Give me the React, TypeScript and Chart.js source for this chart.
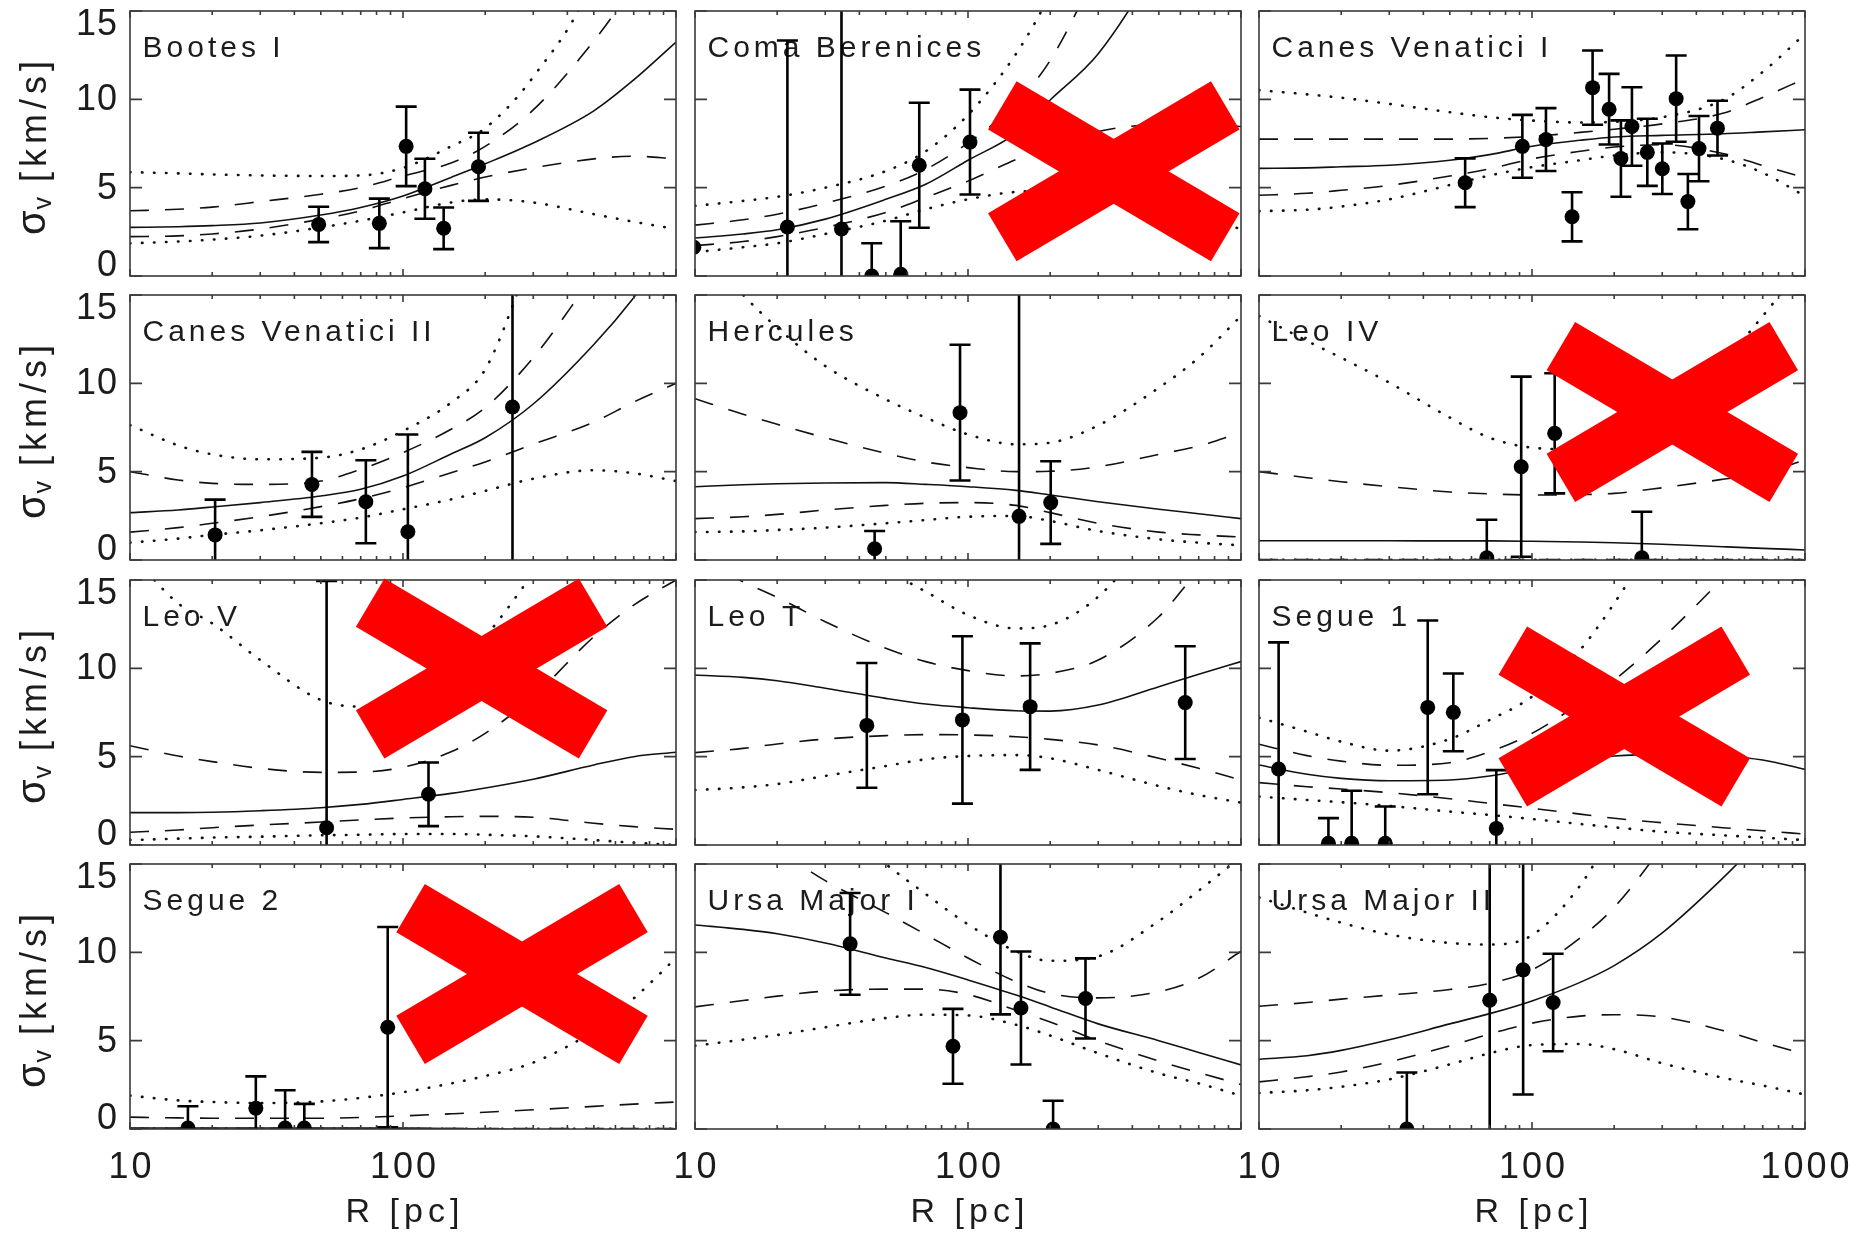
import React, { useEffect, useRef } from "react";
import { Chart, registerables } from "chart.js";

Chart.register(...registerables);

// ---- shared axis values ----
const R_GRID = [10, 15, 20, 30, 50, 70, 100, 150, 200, 300, 500, 700, 1000];
const X_MAJOR = [10, 100, 1000];
const X_MINOR = [20, 30, 40, 50, 60, 70, 80, 90, 200, 300, 400, 500, 600, 700, 800, 900];
const Y_TICKS = [0, 5, 10, 15];
const Y_TICK_LABELS = ["0", "5", "10", "15"];
const X_LABEL_VALUES_LEFT = [10, 100];
const X_LABEL_VALUES_RIGHT = [10, 100, 1000];
const Y_TITLE_MAIN = "σ";
const Y_TITLE_SUB = "v";
const Y_TITLE_UNIT = "[km/s]";
const X_TITLE = "R [pc]";

// ---- Bootes I ----
const BOO_R = [49.1, 81.9, 102.7, 120.3, 140.9, 189];
const BOO_SIG = [2.92, 2.98, 7.34, 4.94, 2.7, 6.18];
const BOO_ERR = [1.0, 1.4, 2.25, 1.7, 1.18, 1.93];
const BOO_FIT = [2.75, 2.79, 2.85, 3.0, 3.45, 3.88, 4.53, 5.58, 6.35, 7.53, 9.35, 11.1, 13.24];
const BOO_DASH_HI = [3.69, 3.78, 3.9, 4.21, 4.63, 5.0, 5.66, 6.4, 7.34, 9.4, 13.3, 16.4, 19.7];
const BOO_DOT_HI = [5.88, 5.81, 5.75, 5.69, 5.66, 5.69, 6.12, 7.34, 8.37, 11.27, 17.0, 25, 32];
const BOO_DASH_LO = [2.23, 2.27, 2.38, 2.66, 3.22, 3.69, 4.38, 5.13, 5.6, 6.12, 6.63, 6.78, 6.63];
const BOO_DOT_LO = [1.85, 1.95, 2.06, 2.28, 2.75, 3.13, 3.6, 4.16, 4.34, 4.16, 3.5, 3.07, 2.66];

// ---- Coma Berenices ----
const COM_R = [9.9, 21.8, 34.4, 44.4, 56.7, 66.3, 101.7];
const COM_SIG = [1.63, 2.77, 2.66, 0.0, 0.1, 6.27, 7.58];
const COM_ERR = [0, 10.56, 13, 1.85, 3.0, 3.54, 2.97];
const COM_FIT = [2.15, 2.38, 2.62, 3.22, 4.34, 5.19, 6.55, 8.09, 9.96, 12.58, 17.8, 22, 27];
const COM_DASH_HI = [2.88, 3.18, 3.5, 4.12, 5.09, 6.03, 7.53, 9.78, 12.2, 17.4, 24, 30, 36];
const COM_DOT_HI = [3.97, 4.25, 4.48, 5.0, 5.94, 7.06, 9.12, 12.58, 15.95, 22, 30, 36, 42];
const COM_DASH_LO = [1.72, 1.95, 2.23, 2.75, 3.6, 4.44, 5.37, 6.59, 7.34, 8.18, 8.56, 8.56, 8.46];
const COM_DOT_LO = [1.35, 1.63, 1.85, 2.38, 3.13, 3.78, 4.34, 4.76, 4.81, 4.63, 3.88, 3.31, 2.66];

// ---- Canes Venatici I ----
const CV1_R = [56.9, 92.2, 112.5, 140.2, 166.7, 191.6, 211.7, 232.3, 264.5, 300.2, 337.3, 372.4, 409, 478];
const CV1_SIG = [5.28, 7.34, 7.72, 3.35, 10.66, 9.44, 6.65, 8.46, 7.0, 6.07, 10.04, 4.21, 7.21, 8.37];
const CV1_ERR = [1.38, 1.78, 1.78, 1.39, 2.1, 2.0, 2.16, 2.22, 1.9, 1.43, 2.44, 1.56, 1.85, 1.55];
const CV1_FIT = [6.09, 6.12, 6.18, 6.27, 6.55, 6.87, 7.34, 7.68, 7.87, 7.96, 8.05, 8.16, 8.28];
const CV1_DASH_HI = [7.75, 7.75, 7.75, 7.75, 7.75, 7.79, 7.9, 8.13, 8.31, 8.61, 9.21, 10.11, 11.18];
const CV1_DOT_HI = [10.52, 10.28, 10.09, 9.74, 9.27, 8.99, 8.8, 8.69, 8.73, 8.99, 9.96, 11.55, 13.71];
const CV1_DASH_LO = [4.57, 4.68, 4.85, 5.13, 5.66, 6.07, 6.63, 7.06, 7.3, 7.43, 6.93, 6.25, 5.56];
const CV1_DOT_LO = [3.67, 3.75, 3.93, 4.34, 5.15, 5.69, 6.16, 6.55, 6.82, 7.0, 6.63, 5.84, 4.53];

// ---- Canes Venatici II ----
const CV2_R = [20.5, 46.4, 73.1, 104.2, 251.8];
const CV2_SIG = [1.42, 4.28, 3.3, 1.6, 8.66];
const CV2_ERR = [2.0, 1.84, 2.35, 5.5, 9.5];
const CV2_FIT = [2.68, 2.83, 3.0, 3.25, 3.62, 4.0, 4.75, 6.0, 6.92, 8.83, 12.2, 14.85, 18.2];
const CV2_DASH_HI = [5.0, 4.53, 4.34, 4.28, 4.47, 5.13, 6.08, 7.4, 8.62, 11.45, 16.1, 19, 22];
const CV2_DOT_HI = [7.64, 6.49, 5.98, 5.7, 5.79, 6.26, 7.3, 8.91, 10.79, 17.4, 25, 30, 35];
const CV2_DASH_LO = [1.58, 1.83, 2.08, 2.45, 3.02, 3.47, 4.09, 4.94, 5.55, 6.55, 7.81, 8.94, 10.0];
const CV2_DOT_LO = [0.98, 1.21, 1.42, 1.68, 2.08, 2.4, 2.87, 3.43, 3.91, 4.6, 5.08, 4.91, 4.47];

// ---- Hercules ----
const HER_R = [45.5, 93.5, 153.8, 200.9];
const HER_SIG = [0.64, 8.34, 2.47, 3.25];
const HER_ERR = [1.0, 3.84, 13, 2.34];
const HER_FIT = [4.15, 4.26, 4.32, 4.36, 4.38, 4.28, 4.15, 3.94, 3.68, 3.3, 2.87, 2.62, 2.34];
const HER_DASH_HI = [9.13, 8.25, 7.68, 6.92, 6.04, 5.55, 5.23, 5.0, 5.02, 5.28, 5.98, 6.45, 7.21];
const HER_DOT_HI = [18.0, 15.0, 13.15, 10.98, 9.09, 8.06, 7.11, 6.55, 6.64, 7.62, 9.75, 11.45, 13.81];
const HER_DASH_LO = [2.34, 2.45, 2.58, 2.83, 3.09, 3.21, 3.25, 3.09, 2.68, 2.08, 1.58, 1.42, 1.3];
const HER_DOT_LO = [1.58, 1.62, 1.7, 1.83, 2.08, 2.26, 2.45, 2.49, 2.21, 1.64, 1.17, 0.98, 0.83];

// ---- Leo IV ----
const LE4_R = [68.3, 91.3, 121.1, 252.5];
const LE4_SIG = [0.13, 5.28, 7.17, 0.13];
const LE4_ERR = [2.15, 5.1, 3.4, 2.6];
const LE4_FIT = [1.09, 1.09, 1.09, 1.09, 1.08, 1.08, 1.06, 1.02, 0.98, 0.89, 0.75, 0.66, 0.57];
const LE4_DASH_HI = [5.0, 4.66, 4.43, 4.15, 3.85, 3.74, 3.68, 3.7, 3.77, 4.09, 4.57, 4.91, 5.66];
const LE4_DOT_HI = [13.81, 12.4, 11.45, 10.04, 8.06, 6.92, 6.36, 6.26, 6.64, 8.15, 11.17, 13.81, 16.8];
const LE4_DASH_LO = [0.03, 0.03, 0.03, 0.03, 0.03, 0.03, 0.03, 0.03, 0.03, 0.03, 0.03, 0.03, 0.03];
const LE4_DOT_LO = [0.01, 0.01, 0.01, 0.01, 0.01, 0.01, 0.01, 0.01, 0.01, 0.01, 0.01, 0.01, 0.01];

// ---- Leo V ----
const LE5_R = [52.5, 124];
const LE5_SIG = [0.98, 2.87];
const LE5_ERR = [13.96, 1.8];
const LE5_FIT = [1.83, 1.83, 1.85, 1.94, 2.11, 2.3, 2.58, 2.92, 3.23, 3.72, 4.53, 5.0, 5.25];
const LE5_DASH_HI = [5.62, 5.04, 4.72, 4.34, 4.11, 4.13, 4.4, 5.28, 6.32, 8.4, 11.79, 13.58, 15.0];
const LE5_DOT_HI = [16.5, 13.68, 12.55, 10.47, 8.21, 7.83, 8.21, 9.91, 11.79, 15.38, 20, 24, 28];
const LE5_DASH_LO = [0.72, 0.85, 0.98, 1.13, 1.3, 1.42, 1.53, 1.6, 1.62, 1.57, 1.23, 1.04, 0.89];
const LE5_DOT_LO = [0.28, 0.36, 0.42, 0.47, 0.55, 0.58, 0.62, 0.62, 0.58, 0.49, 0.28, 0.13, 0.0];

// ---- Leo T ----
const LET_R = [42.6, 95.4, 168.9, 624.7];
const LET_SIG = [6.77, 7.08, 7.83, 8.06];
const LET_ERR = [3.53, 4.74, 3.58, 3.19];
const LET_FIT = [9.62, 9.49, 9.3, 8.87, 8.3, 7.98, 7.77, 7.6, 7.58, 7.92, 8.96, 9.66, 10.38];
const LET_DASH_HI = [16.3, 14.9, 14.02, 12.64, 11.13, 10.38, 9.87, 9.57, 9.72, 10.47, 12.92, 15.57, 18];
const LET_DOT_HI = [25, 21, 19, 17.3, 15.57, 14.34, 13.02, 12.26, 12.45, 14.06, 18, 21, 24];
const LET_DASH_LO = [5.23, 5.47, 5.72, 6.0, 6.19, 6.25, 6.23, 6.13, 5.98, 5.66, 4.91, 4.34, 3.68];
const LET_DOT_LO = [3.11, 3.26, 3.45, 3.91, 4.47, 4.85, 5.04, 5.09, 4.91, 4.25, 3.34, 2.83, 2.4];

// ---- Segue 1 ----
const SG1_R = [11.8, 17.96, 21.85, 29.0, 41.5, 51.5, 74.0];
const SG1_SIG = [4.3, 0.1, 0.1, 0.1, 7.79, 7.51, 0.94];
const SG1_ERR = [7.17, 1.42, 2.97, 2.08, 4.92, 2.2, 3.3];
const SG1_FIT = [4.53, 4.0, 3.77, 3.64, 3.68, 3.91, 4.34, 4.81, 5.04, 5.13, 5.04, 4.81, 4.28];
const SG1_DASH_HI = [5.7, 5.06, 4.75, 4.51, 4.66, 5.28, 6.32, 8.02, 9.34, 11.7, 15.1, 17.5, 20];
const SG1_DOT_HI = [7.21, 6.42, 5.85, 5.34, 6.0, 7.08, 8.4, 11.04, 13.68, 18, 24, 28, 32];
const SG1_DASH_LO = [3.53, 3.3, 3.17, 2.96, 2.62, 2.36, 2.08, 1.75, 1.51, 1.26, 0.98, 0.81, 0.62];
const SG1_DOT_LO = [2.74, 2.55, 2.42, 2.21, 1.89, 1.7, 1.47, 1.19, 1.0, 0.75, 0.55, 0.42, 0.28];

// ---- Segue 2 ----
const SG2_R = [16.3, 28.9, 37.0, 43.5, 87.9];
const SG2_SIG = [0.05, 1.18, 0.05, 0.05, 5.76];
const SG2_ERR = [1.24, 1.8, 2.14, 1.37, 5.67];
const SG2_FIT = [0.06, 0.06, 0.06, 0.06, 0.06, 0.05, 0.05, 0.03, 0.0, -0.05, -0.1, -0.1, -0.1];
const SG2_DASH_HI = [0.67, 0.63, 0.61, 0.61, 0.61, 0.65, 0.74, 0.86, 0.95, 1.09, 1.28, 1.41, 1.53];
const SG2_DOT_HI = [1.89, 1.62, 1.53, 1.47, 1.56, 1.76, 2.08, 2.58, 3.0, 3.76, 5.57, 7.39, 9.68];
const SG2_DASH_LO = [0.02, 0.02, 0.02, 0.02, 0.02, 0.02, 0.02, 0.02, 0.02, 0.02, 0.02, 0.02, 0.02];
const SG2_DOT_LO = [0.01, 0.01, 0.01, 0.01, 0.01, 0.01, 0.01, 0.01, 0.01, 0.01, 0.01, 0.01, 0.01];

// ---- Ursa Major I ----
const UM1_R = [37.0, 88.1, 131.5, 156.3, 205, 269.4];
const UM1_SIG = [10.48, 4.68, 10.86, 6.85, 0.0, 7.39];
const UM1_ERR = [2.88, 2.12, 4.37, 3.2, 1.6, 2.27];
const UM1_FIT = [11.55, 11.3, 11.05, 10.53, 9.68, 9.14, 8.44, 7.58, 6.91, 5.95, 5.0, 4.33, 3.63];
const UM1_DASH_HI = [19, 17, 15.8, 14.06, 12.25, 11.01, 9.68, 8.34, 7.67, 7.42, 7.77, 8.53, 10.06];
const UM1_DOT_HI = [26, 23, 21, 18, 15.0, 13.3, 11.58, 10.06, 9.52, 9.77, 11.77, 13.49, 15.4];
const UM1_DASH_LO = [6.91, 7.27, 7.52, 7.81, 7.92, 7.92, 7.61, 6.72, 6.05, 5.0, 3.85, 3.19, 2.52];
const UM1_DOT_LO = [4.71, 5.06, 5.32, 5.76, 6.28, 6.47, 6.43, 5.9, 5.29, 4.29, 3.15, 2.58, 1.89];

// ---- Ursa Major II ----
const UM2_R = [34.8, 70.0, 92.8, 119.5];
const UM2_SIG = [0.0, 7.29, 9.01, 7.16];
const UM2_ERR = [3.2, 9.0, 7.06, 2.76];
const UM2_FIT = [3.95, 4.15, 4.45, 5.05, 5.95, 6.53, 7.25, 8.3, 9.25, 11.1, 14.2, 16.5, 19];
const UM2_DASH_HI = [6.95, 7.16, 7.35, 7.58, 7.9, 8.24, 9.01, 10.82, 12.54, 16.0, 21, 25, 29];
const UM2_DOT_HI = [13.11, 12.25, 11.68, 11.01, 10.53, 10.44, 10.97, 13.78, 17, 22, 28, 33, 38];
const UM2_DASH_LO = [2.67, 2.96, 3.23, 3.8, 4.71, 5.38, 5.99, 6.39, 6.47, 6.34, 5.57, 4.9, 4.24];
const UM2_DOT_LO = [2.04, 2.19, 2.39, 2.81, 3.66, 4.29, 4.75, 4.81, 4.52, 3.72, 2.9, 2.46, 1.95];

type PanelData = {
  name: string;
  r: number[];
  sig: number[];
  err: number[];
  fit: number[];
  dashHi: number[];
  dotHi: number[];
  dashLo: number[];
  dotLo: number[];
};

const PANELS: PanelData[] = [
  { name: "Bootes I", r: BOO_R, sig: BOO_SIG, err: BOO_ERR, fit: BOO_FIT, dashHi: BOO_DASH_HI, dotHi: BOO_DOT_HI, dashLo: BOO_DASH_LO, dotLo: BOO_DOT_LO },
  { name: "Coma Berenices", r: COM_R, sig: COM_SIG, err: COM_ERR, fit: COM_FIT, dashHi: COM_DASH_HI, dotHi: COM_DOT_HI, dashLo: COM_DASH_LO, dotLo: COM_DOT_LO },
  { name: "Canes Venatici I", r: CV1_R, sig: CV1_SIG, err: CV1_ERR, fit: CV1_FIT, dashHi: CV1_DASH_HI, dotHi: CV1_DOT_HI, dashLo: CV1_DASH_LO, dotLo: CV1_DOT_LO },
  { name: "Canes Venatici II", r: CV2_R, sig: CV2_SIG, err: CV2_ERR, fit: CV2_FIT, dashHi: CV2_DASH_HI, dotHi: CV2_DOT_HI, dashLo: CV2_DASH_LO, dotLo: CV2_DOT_LO },
  { name: "Hercules", r: HER_R, sig: HER_SIG, err: HER_ERR, fit: HER_FIT, dashHi: HER_DASH_HI, dotHi: HER_DOT_HI, dashLo: HER_DASH_LO, dotLo: HER_DOT_LO },
  { name: "Leo IV", r: LE4_R, sig: LE4_SIG, err: LE4_ERR, fit: LE4_FIT, dashHi: LE4_DASH_HI, dotHi: LE4_DOT_HI, dashLo: LE4_DASH_LO, dotLo: LE4_DOT_LO },
  { name: "Leo V", r: LE5_R, sig: LE5_SIG, err: LE5_ERR, fit: LE5_FIT, dashHi: LE5_DASH_HI, dotHi: LE5_DOT_HI, dashLo: LE5_DASH_LO, dotLo: LE5_DOT_LO },
  { name: "Leo T", r: LET_R, sig: LET_SIG, err: LET_ERR, fit: LET_FIT, dashHi: LET_DASH_HI, dotHi: LET_DOT_HI, dashLo: LET_DASH_LO, dotLo: LET_DOT_LO },
  { name: "Segue 1", r: SG1_R, sig: SG1_SIG, err: SG1_ERR, fit: SG1_FIT, dashHi: SG1_DASH_HI, dotHi: SG1_DOT_HI, dashLo: SG1_DASH_LO, dotLo: SG1_DOT_LO },
  { name: "Segue 2", r: SG2_R, sig: SG2_SIG, err: SG2_ERR, fit: SG2_FIT, dashHi: SG2_DASH_HI, dotHi: SG2_DOT_HI, dashLo: SG2_DASH_LO, dotLo: SG2_DOT_LO },
  { name: "Ursa Major I", r: UM1_R, sig: UM1_SIG, err: UM1_ERR, fit: UM1_FIT, dashHi: UM1_DASH_HI, dotHi: UM1_DOT_HI, dashLo: UM1_DASH_LO, dotLo: UM1_DOT_LO },
  { name: "Ursa Major II", r: UM2_R, sig: UM2_SIG, err: UM2_ERR, fit: UM2_FIT, dashHi: UM2_DASH_HI, dotHi: UM2_DOT_HI, dashLo: UM2_DASH_LO, dotLo: UM2_DOT_LO },
];

// ---- layout & style ----
const FIG_W = 1850;
const FIG_H = 1234;
const PANEL_LEFT = [130, 695, 1259];
const PANEL_TOP = [11, 295, 580, 864];
const PANEL_W = 546;
const PANEL_H = 265;
const CANVAS_X = [[0, 690], [665, 1255], [1229, FIG_W]];
const CANVAS_Y = [[0, 288], [283, 572], [568, 857], [852, FIG_H]];

const FONT = '"Liberation Sans", Arial, sans-serif';
const TEXT_COLOR = "#1c1c1c";
const FRAME_COLOR = "#3a3a3a";
const CROSS_COLOR = "#ff0000";
const CROSS_LEN = 259;
const CROSS_THICK = 56;
const CROSS_ANGLE = (30.6 * Math.PI) / 180;
// centre of the red cross, as a fraction of the plotting area
const CROSS_AT: Record<string, [number, number]> = {
  "Coma Berenices": [0.767, 0.605],
  "Leo IV": [0.757, 0.4415],
  "Leo V": [0.644, 0.334],
  "Segue 1": [0.669, 0.515],
  "Segue 2": [0.718, 0.415],
};

const LINE_STYLE = {
  solid: { borderDash: [] as number[], borderWidth: 1.6, borderCapStyle: "butt" },
  dash: { borderDash: [19, 16], borderWidth: 1.6, borderCapStyle: "butt" },
  dot: { borderDash: [0.5, 11.5], borderWidth: 2.6, borderCapStyle: "round" },
};

function curve(values: number[], style: keyof typeof LINE_STYLE) {
  const s = LINE_STYLE[style];
  return {
    type: "line" as const,
    data: R_GRID.map((r, i) => ({ x: r, y: values[i] })),
    borderColor: "#111",
    borderWidth: s.borderWidth,
    borderDash: s.borderDash,
    borderCapStyle: s.borderCapStyle,
    pointRadius: 0,
    fill: false,
    cubicInterpolationMode: "monotone" as const,
    clip: 0,
  };
}

function makeDecor(p: PanelData, col: number, row: number) {
  return {
    id: "panelDecor",
    beforeDatasetsDraw(chart: any) {
      const { ctx, chartArea: ca } = chart;
      ctx.save();
      ctx.font = `30px ${FONT}`;
      (ctx as any).letterSpacing = "4px";
      ctx.fillStyle = TEXT_COLOR;
      ctx.textAlign = "left";
      ctx.textBaseline = "alphabetic";
      ctx.fillText(p.name, ca.left + 12.5, ca.top + 45.5);
      ctx.restore();
    },
    afterDatasetsDraw(chart: any) {
      const { ctx, chartArea: ca, scales } = chart;
      const x = scales.x;
      const y = scales.y;
      ctx.save();
      ctx.beginPath();
      ctx.rect(ca.left, ca.top, ca.right - ca.left, ca.bottom - ca.top);
      ctx.clip();
      ctx.strokeStyle = "#000";
      ctx.lineWidth = 2.6;
      ctx.lineCap = "butt";
      p.r.forEach((r, i) => {
        const e = p.err[i];
        if (!e) return;
        const px = x.getPixelForValue(r);
        const yHi = y.getPixelForValue(p.sig[i] + e);
        const yLo = y.getPixelForValue(p.sig[i] - e);
        ctx.beginPath();
        ctx.moveTo(px, yHi);
        ctx.lineTo(px, yLo);
        ctx.moveTo(px - 10.5, yHi);
        ctx.lineTo(px + 10.5, yHi);
        ctx.moveTo(px - 10.5, yLo);
        ctx.lineTo(px + 10.5, yLo);
        ctx.stroke();
      });
      ctx.restore();
    },
    afterDraw(chart: any) {
      const { ctx, chartArea: ca, scales } = chart;
      const x = scales.x;
      const y = scales.y;
      ctx.save();
      // frame
      ctx.strokeStyle = FRAME_COLOR;
      ctx.lineWidth = 1.6;
      ctx.strokeRect(ca.left, ca.top, ca.right - ca.left, ca.bottom - ca.top);
      // x ticks on bottom and top, pointing inward
      ctx.beginPath();
      X_MAJOR.forEach((v) => {
        const px = x.getPixelForValue(v);
        ctx.moveTo(px, ca.bottom);
        ctx.lineTo(px, ca.bottom - 7);
        ctx.moveTo(px, ca.top);
        ctx.lineTo(px, ca.top + 7);
      });
      X_MINOR.forEach((v) => {
        const px = x.getPixelForValue(v);
        ctx.moveTo(px, ca.bottom);
        ctx.lineTo(px, ca.bottom - 4);
        ctx.moveTo(px, ca.top);
        ctx.lineTo(px, ca.top + 4);
      });
      // y ticks on left and right
      Y_TICKS.forEach((v) => {
        const py = y.getPixelForValue(v);
        ctx.moveTo(ca.left, py);
        ctx.lineTo(ca.left + 12, py);
        ctx.moveTo(ca.right, py);
        ctx.lineTo(ca.right - 12, py);
      });
      ctx.stroke();

      ctx.fillStyle = TEXT_COLOR;
      // y tick labels and title on the first column
      if (col === 0) {
        ctx.font = `36px ${FONT}`;
        (ctx as any).letterSpacing = "1px";
        ctx.textAlign = "right";
        ctx.textBaseline = "middle";
        Y_TICKS.forEach((v, i) => {
          let py = y.getPixelForValue(v) + 1;
          py = Math.max(ca.top + 14, Math.min(ca.bottom - 10, py));
          ctx.fillText(Y_TICK_LABELS[i], ca.left - 12, py);
        });
        // rotated axis title with subscript
        ctx.save();
        ctx.translate(36, (ca.top + ca.bottom) / 2 + 2);
        ctx.rotate(-Math.PI / 2);
        ctx.textAlign = "left";
        ctx.textBaseline = "middle";
        const mainFont = `40px ${FONT}`;
        const subFont = `25px ${FONT}`;
        const unitFont = `36px ${FONT}`;
        ctx.font = mainFont;
        (ctx as any).letterSpacing = "0px";
        const wMain = ctx.measureText(Y_TITLE_MAIN).width;
        ctx.font = subFont;
        const wSub = ctx.measureText(Y_TITLE_SUB).width;
        ctx.font = unitFont;
        (ctx as any).letterSpacing = "5px";
        const wUnit = ctx.measureText(Y_TITLE_UNIT).width;
        const gap = 15;
        const total = wMain + 1 + wSub + gap + wUnit;
        let cx = -total / 2;
        ctx.font = mainFont;
        (ctx as any).letterSpacing = "0px";
        ctx.fillText(Y_TITLE_MAIN, cx, -2);
        cx += wMain + 1;
        ctx.font = subFont;
        ctx.fillText(Y_TITLE_SUB, cx, 8);
        cx += wSub + gap;
        ctx.font = unitFont;
        (ctx as any).letterSpacing = "5px";
        ctx.fillText(Y_TITLE_UNIT, cx, 0);
        ctx.restore();
      }
      // x tick labels and title on the bottom row
      if (row === 3) {
        ctx.font = `36px ${FONT}`;
        (ctx as any).letterSpacing = "3px";
        ctx.textAlign = "center";
        ctx.textBaseline = "middle";
        const vals = col === 2 ? X_LABEL_VALUES_RIGHT : X_LABEL_VALUES_LEFT;
        vals.forEach((v) => {
          ctx.fillText(String(v), x.getPixelForValue(v) + 1.5, ca.bottom + 39);
        });
        ctx.font = `34px ${FONT}`;
        (ctx as any).letterSpacing = "5px";
        ctx.fillText(X_TITLE, (ca.left + ca.right) / 2 + 2, ca.bottom + 84);
      }
      // red cross over rejected panels
      const at = CROSS_AT[p.name];
      if (at) {
        const cx = ca.left + at[0] * (ca.right - ca.left);
        const cy = ca.top + at[1] * (ca.bottom - ca.top);
        ctx.fillStyle = CROSS_COLOR;
        [CROSS_ANGLE, -CROSS_ANGLE].forEach((a) => {
          ctx.save();
          ctx.translate(cx, cy);
          ctx.rotate(a);
          ctx.fillRect(-CROSS_LEN / 2, -CROSS_THICK / 2, CROSS_LEN, CROSS_THICK);
          ctx.restore();
        });
      }
      ctx.restore();
    },
  };
}

function Panel({ idx }: { idx: number }) {
  const ref = useRef<HTMLCanvasElement | null>(null);
  const col = idx % 3;
  const row = Math.floor(idx / 3);
  const [x0, x1] = CANVAS_X[col];
  const [y0, y1] = CANVAS_Y[row];
  const w = x1 - x0;
  const h = y1 - y0;

  useEffect(() => {
    const p = PANELS[idx];
    const padLeft = PANEL_LEFT[col] - x0;
    const padTop = PANEL_TOP[row] - y0;
    const padRight = x1 - (PANEL_LEFT[col] + PANEL_W);
    const padBottom = y1 - (PANEL_TOP[row] + PANEL_H);
    const chart = new Chart(ref.current as HTMLCanvasElement, {
      type: "scatter",
      data: {
        datasets: [
          {
            type: "scatter",
            data: p.r.map((r, i) => ({ x: r, y: p.sig[i] })),
            pointRadius: 7.5,
            pointBackgroundColor: "#000",
            pointBorderWidth: 0,
            backgroundColor: "#000",
            borderColor: "#000",
            clip: 0,
          } as any,
          curve(p.fit, "solid") as any,
          curve(p.dashHi, "dash") as any,
          curve(p.dashLo, "dash") as any,
          curve(p.dotHi, "dot") as any,
          curve(p.dotLo, "dot") as any,
        ],
      },
      options: {
        responsive: false,
        animation: false,
        devicePixelRatio: 1,
        events: [],
        layout: { padding: { left: padLeft, top: padTop, right: padRight, bottom: padBottom } },
        plugins: { legend: { display: false }, tooltip: { enabled: false }, title: { display: false } },
        scales: {
          x: { type: "logarithmic", min: 10, max: 1000, display: false },
          y: { type: "linear", min: 0, max: 15, display: false },
        },
      },
      plugins: [makeDecor(p, col, row) as any],
    });
    return () => chart.destroy();
  }, [idx]);

  return (
    <canvas
      ref={ref}
      width={w}
      height={h}
      style={{ position: "absolute", left: x0, top: y0, width: w, height: h }}
    />
  );
}

export default function App() {
  return (
    <div
      style={{
        position: "absolute",
        left: 0,
        top: 0,
        width: FIG_W,
        height: FIG_H,
        background: "#fff",
        overflow: "hidden",
      }}
    >
      {PANELS.map((_, i) => (
        <Panel key={i} idx={i} />
      ))}
    </div>
  );
}
